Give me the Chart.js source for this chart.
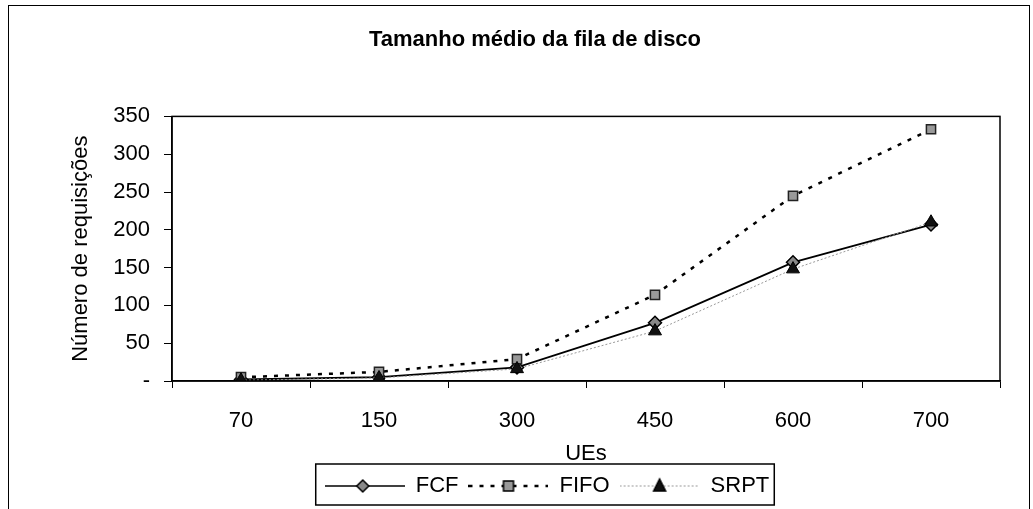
<!DOCTYPE html>
<html>
<head>
<meta charset="utf-8">
<script src="https://cdn.jsdelivr.net/npm/chart.js@4"></script>
<style>
  html, body { margin: 0; padding: 0; background: #fff; }
  #wrap { width: 1033px; height: 509px; }
</style>
</head>
<body>
<div id="wrap"><canvas id="chart" width="1033" height="509"></canvas></div>
<script>
const categories = ['70', '150', '300', '450', '600', '700'];
const fcfValues = [2, 5, 18, 77, 157, 207];
const fifoValues = [5, 12, 29, 114, 245, 333];
const srptValues = [1, 4, 16, 66, 148, 210];
const yTicks = [0, 50, 100, 150, 200, 250, 300, 350];

const FONT = "'Liberation Sans', Arial, sans-serif";

// small canvas used as legend sample: line + marker
function legendSample(kind) {
  const c = document.createElement('canvas');
  c.width = 80;
  c.height = 18;
  const g = c.getContext('2d');
  const mid = 9;
  g.beginPath();
  if (kind === 'fcf') {
    g.strokeStyle = '#000'; g.lineWidth = 1.5;
  } else if (kind === 'fifo') {
    g.strokeStyle = '#000'; g.lineWidth = 2.5; g.setLineDash([4, 7]);
  } else {
    g.strokeStyle = '#999'; g.lineWidth = 1; g.setLineDash([2, 2]);
  }
  g.moveTo(0, mid); g.lineTo(80, mid); g.stroke();
  g.setLineDash([]);
  g.lineWidth = 1.5;
  g.strokeStyle = '#000';
  g.beginPath();
  if (kind === 'fcf') {
    g.fillStyle = '#888';
    g.moveTo(38, mid - 6); g.lineTo(44, mid); g.lineTo(38, mid + 6); g.lineTo(32, mid);
    g.closePath();
  } else if (kind === 'fifo') {
    g.fillStyle = '#999';
    g.rect(35, mid - 5, 10, 10);
  } else {
    g.fillStyle = '#111';
    g.moveTo(40, mid - 7); g.lineTo(46, mid + 5); g.lineTo(34, mid + 5);
    g.closePath();
  }
  g.fill(); g.stroke();
  return c;
}

const samples = [legendSample('fcf'), legendSample('fifo'), legendSample('srpt')];

const boxPlugin = {
  id: 'boxes',
  afterLayout(chart) {
    // move title and legend to where the original sits
    chart.titleBlock.left += 30;
    chart.titleBlock.right += 30;
    const lg = chart.legend;
    lg.left += 42;
    lg.right += 42;
    (lg.legendHitBoxes || []).forEach(h => { h.left += 42; });
  },
  beforeDraw(chart) {
    const ctx = chart.ctx;
    ctx.save();
    ctx.fillStyle = '#fff';
    ctx.fillRect(0, 0, chart.width, chart.height);
    ctx.restore();
  },
  afterDraw(chart) {
    const ctx = chart.ctx;
    const a = chart.chartArea;
    ctx.save();
    ctx.strokeStyle = '#000';
    // outer frame
    ctx.lineWidth = 1;
    ctx.strokeRect(8.5, 5.5, 1021, 520);
    // plot frame
    ctx.lineWidth = 1.5;
    ctx.strokeRect(a.left, a.top, a.right - a.left, a.bottom - a.top);
    // legend frame
    const hb = chart.legend.legendHitBoxes;
    if (hb && hb.length) {
      const l = hb[0].left - 9;
      const last = hb[hb.length - 1];
      const r = last.left + last.width + 5;
      const t = hb[0].top - 11;
      ctx.lineWidth = 1.5;
      ctx.strokeRect(l, t, r - l, 41);
    }
    ctx.restore();
  }
};

new Chart(document.getElementById('chart'), {
  type: 'line',
  data: {
    labels: categories,
    datasets: [
      {
        label: 'FCF',
        data: fcfValues,
        borderColor: '#000',
        borderWidth: 1.8,
        pointStyle: 'rectRot',
        pointRadius: 6.5,
        pointBackgroundColor: '#888',
        pointBorderColor: '#000',
        pointBorderWidth: 1.5,
        order: 2
      },
      {
        label: 'FIFO',
        data: fifoValues,
        borderColor: '#000',
        borderWidth: 2.5,
        borderDash: [4, 7],
        pointStyle: 'rect',
        pointRadius: 6.5,
        pointBackgroundColor: '#999',
        pointBorderColor: '#222',
        pointBorderWidth: 1.5,
        order: 1
      },
      {
        label: 'SRPT',
        data: srptValues,
        borderColor: '#999',
        borderWidth: 1,
        borderDash: [2, 2],
        pointStyle: 'triangle',
        pointRadius: 7.5,
        pointBackgroundColor: '#111',
        pointBorderColor: '#000',
        pointBorderWidth: 1,
        order: 0
      }
    ]
  },
  options: {
    responsive: false,
    animation: false,
    layout: { padding: { left: 10, right: 33, top: 0, bottom: 2 } },
    plugins: {
      title: {
        display: true,
        text: 'Tamanho médio da fila de disco',
        color: '#000',
        font: { family: FONT, size: 22, weight: 'bold' },
        padding: { top: 27, bottom: 63 }
      },
      legend: {
        position: 'bottom',
        labels: {
          usePointStyle: true,
          pointStyleWidth: 80,
          padding: 10,
          color: '#000',
          font: { family: FONT, size: 22 },
          generateLabels(chart) {
            return chart.data.datasets.map((ds, i) => ({
              text: ds.label,
              pointStyle: samples[i],
              fillStyle: '#000',
              strokeStyle: '#000',
              lineWidth: 0,
              hidden: false,
              datasetIndex: i
            }));
          }
        }
      },
      tooltip: { enabled: false }
    },
    scales: {
      x: {
        offset: true,
        grid: { offset: true, drawOnChartArea: false, tickLength: 7, color: '#000' },
        border: { color: '#000', width: 1.5 },
        ticks: { color: '#000', padding: 20, font: { family: FONT, size: 22 }, maxRotation: 0 },
        title: {
          display: true, text: 'UEs', color: '#000',
          font: { family: FONT, size: 22 }, padding: { top: 0, bottom: -2 }
        },
        afterFit(scale) { scale.height = 84; }
      },
      y: {
        min: 0,
        max: 350,
        afterBuildTicks(scale) { scale.ticks = yTicks.map(v => ({ value: v })); },
        grid: { drawOnChartArea: false, tickLength: 8, color: '#000' },
        border: { color: '#000', width: 1.5 },
        ticks: {
          color: '#000', padding: 14,
          font: { family: FONT, size: 22 },
          callback: v => (v === 0 ? '-' : v)
        },
        title: {
          display: true, text: 'Número de requisições', color: '#000',
          font: { family: FONT, size: 22 }, padding: { top: 58, bottom: 0 }
        },
        afterFit(scale) { scale.width = 162; }
      }
    }
  },
  plugins: [boxPlugin]
});
</script>
</body>
</html>
